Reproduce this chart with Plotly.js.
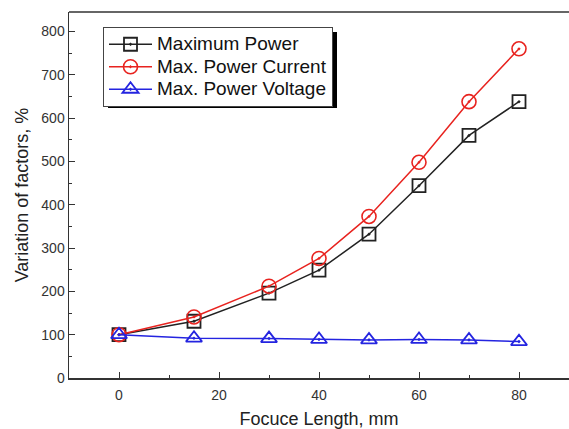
<!DOCTYPE html>
<html><head><meta charset="utf-8">
<script src="https://cdn.plot.ly/plotly-3.0.1.min.js"></script>
<style>body{margin:0;background:#fff}#c{width:569px;height:429px}</style>
</head><body><div id="c"></div>
<script>
const focusLength = [0, 15, 30, 40, 50, 60, 70, 80];
const maximumPower = [100, 131, 196, 249, 332, 444, 560, 638];
const maxPowerCurrent = [100, 141, 212, 276, 373, 498, 638, 760];
const maxPowerVoltage = [100, 92, 91, 89, 88, 89, 88, 84];
const seriesNames = ["Maximum Power", "Max. Power Current", "Max. Power Voltage"];

const L = 69, T = 12, W = 500, H = 366;
function px2paperX(p){return (p - L) / W;}
function px2paperY(p){return (T + H - p) / H;}
function big(s){return '<span style="font-size:19px">' + s + '</span>';}

const traces = [
  {x: focusLength, y: maximumPower, name: big(seriesNames[0]), mode: 'lines+markers',
   line: {color: '#222', width: 1.5},
   marker: {symbol: 'square-open-dot', size: 13, color: '#222', line: {width: 1.8, color: '#222'}}},
  {x: focusLength, y: maxPowerCurrent, name: big(seriesNames[1]), mode: 'lines+markers',
   line: {color: '#e8231f', width: 1.5},
   marker: {symbol: 'circle-open-dot', size: 14, color: '#e8231f', line: {width: 1.6, color: '#e8231f'}}},
  {x: focusLength, y: maxPowerVoltage, name: big(seriesNames[2]), mode: 'lines+markers',
   line: {color: '#2424e0', width: 1.5},
   marker: {symbol: 'triangle-up-open-dot', size: 14, color: '#2424e0', line: {width: 1.8, color: '#2424e0'}}}
];

const layout = {
  width: 569, height: 429,
  margin: {l: L, r: 0, t: T, b: 51},
  paper_bgcolor: '#fff', plot_bgcolor: '#fff',
  font: {family: 'Liberation Sans, Arial, sans-serif', color: '#222'},
  showlegend: true,
  legend: {x: px2paperX(103), y: px2paperY(27), xanchor: 'left', yanchor: 'top',
    bgcolor: '#fff', bordercolor: '#444', borderwidth: 1,
    font: {size: 15, color: '#111'}, tracegroupgap: 0, itemwidth: 43},
  xaxis: {range: [-10, 90], tickvals: [0, 20, 40, 60, 80], ticks: 'inside', ticklen: 6,
    tickcolor: '#333', showline: true, linecolor: '#333', linewidth: 1.5, zeroline: false, showgrid: false,
    tickfont: {size: 14, color: '#333'}, ticklabelstandoff: 4,
    minor: {ticks: 'inside', ticklen: 3, dtick: 10, tick0: 0, tickcolor: '#333', showgrid: false},
    title: {text: 'Focuce Length, mm', font: {size: 18, color: '#222'}, standoff: 16}},
  yaxis: {range: [0, 845], tickvals: [0, 100, 200, 300, 400, 500, 600, 700, 800], ticks: 'inside', ticklen: 6,
    tickcolor: '#333', showline: true, linecolor: '#333', linewidth: 1.5, zeroline: false, showgrid: false,
    tickfont: {size: 14, color: '#333'},
    minor: {ticks: 'inside', ticklen: 3, dtick: 50, tick0: 0, tickcolor: '#333', showgrid: false},
    title: {text: 'Variation of factors, %', font: {size: 18, color: '#222'}, standoff: 8}},
  shapes: [
    {type: 'line', xref: 'paper', yref: 'paper', x0: 0, x1: 1, y0: 1, y1: 1, line: {color: '#333', width: 1.5}},
    {type: 'rect', xref: 'paper', yref: 'paper', layer: 'above',
     x0: px2paperX(108), x1: px2paperX(337), y0: px2paperY(108), y1: px2paperY(32),
     fillcolor: '#000', line: {width: 0}}
  ]
};
Plotly.newPlot('c', traces, layout, {displayModeBar: false, staticPlot: true});
</script></body></html>
